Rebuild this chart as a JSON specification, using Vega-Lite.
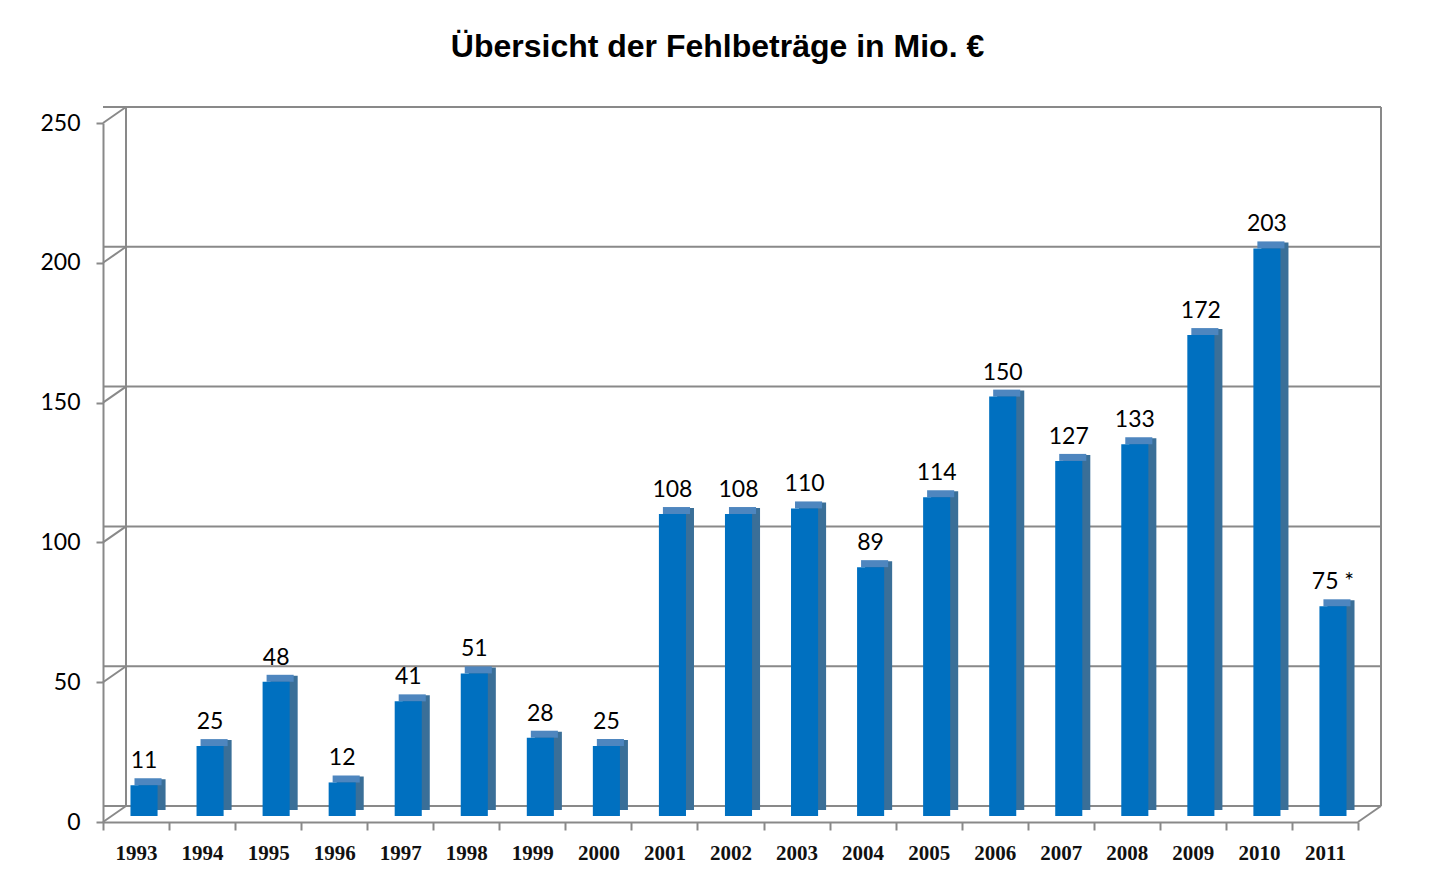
{
  "$schema": "https://vega.github.io/schema/vega-lite/v6.json",
  "width": 1255,
  "height": 699,
  "autosize": {"type": "none"},
  "padding": {"left": 103, "top": 123, "right": 74, "bottom": 57},
  "background": "white",
  "config": {
    "view": {"stroke": null},
    "axis": {"domainColor": "#898989", "domainWidth": 2, "tickColor": "#898989", "tickWidth": 2, "grid": false, "title": null}
  },
  "title": {
    "text": "Übersicht der Fehlbeträge in Mio. €",
    "font": "Liberation Sans",
    "fontSize": 32,
    "fontWeight": "bold",
    "color": "#000000",
    "anchor": "middle",
    "frame": "group",
    "dx": -13,
    "offset": 42
  },
  "datasets": {
    "bars": [
      {"year": "1993", "value": 11, "label": "11"},
      {"year": "1994", "value": 25, "label": "25"},
      {"year": "1995", "value": 48, "label": "48"},
      {"year": "1996", "value": 12, "label": "12"},
      {"year": "1997", "value": 41, "label": "41"},
      {"year": "1998", "value": 51, "label": "51"},
      {"year": "1999", "value": 28, "label": "28"},
      {"year": "2000", "value": 25, "label": "25"},
      {"year": "2001", "value": 108, "label": "108"},
      {"year": "2002", "value": 108, "label": "108"},
      {"year": "2003", "value": 110, "label": "110"},
      {"year": "2004", "value": 89, "label": "89"},
      {"year": "2005", "value": 114, "label": "114"},
      {"year": "2006", "value": 150, "label": "150"},
      {"year": "2007", "value": 127, "label": "127"},
      {"year": "2008", "value": 133, "label": "133"},
      {"year": "2009", "value": 172, "label": "172"},
      {"year": "2010", "value": 203, "label": "203"},
      {"year": "2011", "value": 75, "label": "75 *"}
    ],
    "grid": [{"v": 0}, {"v": 50}, {"v": 100}, {"v": 150}, {"v": 200}, {"v": 250}],
    "one": [{"k": 1}]
  },
  "data": {"name": "bars"},
  "layer": [
    {
      "mark": {"type": "bar", "color": "#0070c0", "width": {"band": 0.41}, "xOffset": 8, "yOffset": -6, "y2Offset": -6, "opacity": 0},
      "encoding": {
        "x": {
          "field": "year",
          "type": "ordinal",
          "scale": {"type": "band", "paddingInner": 0, "paddingOuter": 0},
          "axis": {
            "tickBand": "extent",
            "bandPosition": 0.5,
            "tickSize": 8,
            "labelPadding": 12,
            "labelFont": "Liberation Serif",
            "labelFontWeight": "bold",
            "labelFontSize": 21,
            "labelColor": "#111111",
            "labelAngle": 0
          }
        },
        "y": {
          "field": "value",
          "type": "quantitative",
          "scale": {"domain": [0, 250], "nice": false},
          "axis": {
            "values": [0, 50, 100, 150, 200, 250],
            "tickSize": 7,
            "labelPadding": 16,
            "labelFont": "Lato",
            "labelFontSize": 23,
            "labelColor": "#000000"
          }
        }
      }
    },
    {
      "data": {"name": "grid"},
      "mark": {"type": "rule", "color": "#898989", "strokeWidth": 2, "xOffset": 23, "x2Offset": 23, "yOffset": -16},
      "encoding": {
        "y": {"field": "v", "type": "quantitative"}
      }
    },
    {
      "data": {"name": "grid"},
      "mark": {"type": "rule", "color": "#898989", "strokeWidth": 2, "x2Offset": 23, "y2Offset": -16},
      "encoding": {
        "x": {"datum": "1993", "type": "ordinal", "bandPosition": 0},
        "x2": {"datum": "1993", "bandPosition": 0},
        "y": {"field": "v", "type": "quantitative"},
        "y2": {"field": "v"}
      }
    },
    {
      "data": {"name": "one"},
      "mark": {"type": "rule", "color": "#898989", "strokeWidth": 2, "xOffset": 23, "yOffset": -16, "y2Offset": -16},
      "encoding": {
        "x": {"datum": "1993", "type": "ordinal", "bandPosition": 0},
        "y": {"datum": 0, "type": "quantitative"},
        "y2": {"datum": 250}
      }
    },
    {
      "data": {"name": "one"},
      "mark": {"type": "rule", "color": "#898989", "strokeWidth": 2, "xOffset": 23, "yOffset": -16, "y2Offset": -16},
      "encoding": {
        "x": {"datum": "2011", "type": "ordinal", "bandPosition": 1},
        "y": {"datum": 0, "type": "quantitative"},
        "y2": {"datum": 250}
      }
    },
    {
      "data": {"name": "one"},
      "mark": {"type": "rule", "color": "#898989", "strokeWidth": 2, "x2Offset": 23, "y2Offset": -16},
      "encoding": {
        "x": {"datum": "2011", "type": "ordinal", "bandPosition": 1},
        "x2": {"datum": "2011", "bandPosition": 1},
        "y": {"datum": 0, "type": "quantitative"},
        "y2": {"datum": 0}
      }
    },
    {
      "mark": {"type": "bar", "color": "#3a6f98", "width": {"band": 0.41}, "xOffset": 16, "yOffset": -12, "y2Offset": -12},
      "encoding": {
        "x": {"field": "year", "type": "ordinal"},
        "y": {"field": "value", "type": "quantitative"}
      }
    },
    {
      "mark": {"type": "bar", "color": "#4e86bf", "width": {"band": 0.41}, "xOffset": 12, "yOffset": -13, "y2Offset": -6},
      "encoding": {
        "x": {"field": "year", "type": "ordinal"},
        "y": {"field": "value", "type": "quantitative"},
        "y2": {"field": "value"}
      }
    },
    {
      "mark": {"type": "bar", "color": "#0070c0", "width": {"band": 0.41}, "xOffset": 8, "yOffset": -6, "y2Offset": -6},
      "encoding": {
        "x": {"field": "year", "type": "ordinal"},
        "y": {"field": "value", "type": "quantitative"}
      }
    },
    {
      "mark": {"type": "text", "font": "Lato", "fontSize": 23, "color": "#000000", "baseline": "alphabetic", "align": "center", "dx": 8, "dy": -23},
      "encoding": {
        "x": {"field": "year", "type": "ordinal"},
        "y": {"field": "value", "type": "quantitative"},
        "text": {"field": "label"}
      }
    }
  ]
}
